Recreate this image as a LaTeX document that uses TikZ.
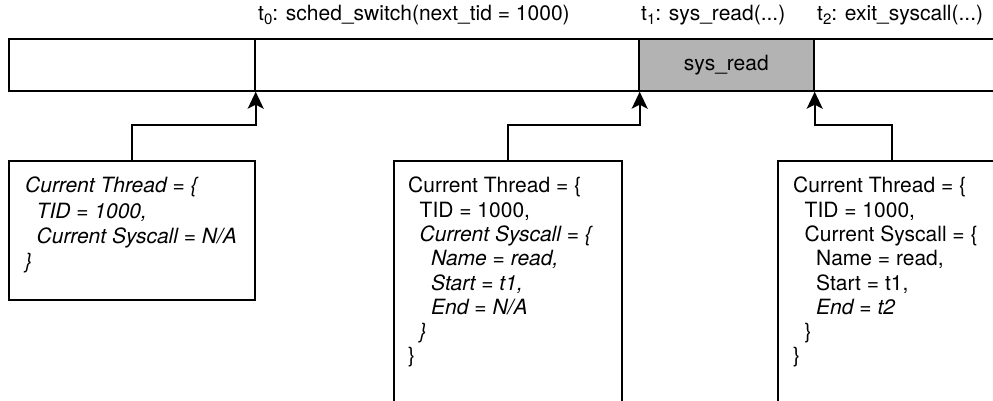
\documentclass[tikz,border=0pt]{standalone}
\usepackage{fontspec}
\setmainfont{TeX Gyre Heros}
\usetikzlibrary{arrows.meta}
\definecolor{syscol}{RGB}{179,179,179}
\newcommand{\ind}{\hspace*{11.5pt}}
\newcommand{\subt}[1]{\raisebox{-4pt}{\fontsize{15}{15}\selectfont #1}}
\begin{document}
\begin{tikzpicture}[x=1pt,y=-1pt,
  seg/.style={draw, line width=1.7pt, inner sep=0, minimum height=52pt, anchor=north west},
  infobox/.style={draw, line width=1.7pt, inner sep=0, anchor=north west},
  lbl/.style={font=\fontsize{21}{25.5}\selectfont, inner sep=0, anchor=base west},
  info/.style={font=\fontsize{21}{24.3}\selectfont, inner sep=0, anchor=north west, align=left},
  conn/.style={line width=1.7pt, -{Stealth[length=17pt,width=16pt,inset=4pt]}}]
\useasboundingbox (0,0) rectangle (993,400);
\clip (0,0) rectangle (993,400);
% timeline bar
\node[seg, minimum width=246pt] (s0) at (8,38) {};
\node[seg, minimum width=384pt] (s1) at (254,38) {};
\node[seg, minimum width=175pt, fill=syscol] (s2) at (638,38) {};
\node[seg, minimum width=200pt] (s3) at (813,38) {};
\node[font=\fontsize{21}{25.5}\selectfont, inner sep=0] (sr) at (s2.center) {sys\_read};
% event labels
\node[lbl] (l0) at (258,20) {t\subt{0}: sched\_switch(next\_tid = 1000)};
\node[lbl] (l1) at (641,20) {t\subt{1}: sys\_read(...)};
\node[lbl] (l2) at (817,20) {t\subt{2}: exit\_syscall(...)};
% state boxes
\node[infobox, minimum width=246pt, minimum height=139pt] (b1) at (8,160) {};
\node[infobox, minimum width=228pt, minimum height=260pt] (b2) at (393,160) {};
\node[infobox, minimum width=228pt, minimum height=260pt] (b3) at (777,160) {};
\node[info, font=\fontsize{21}{25.3}\selectfont] (t1) at (25,177) {\textit{Current Thread = \{}\\
\ind\textit{TID = 1000,}\\
\ind\textit{Current Syscall = N/A}\\
\textit{\}}};
\node[info] (t2) at (408,177) {Current Thread = \{\\
\ind TID = 1000,\\
\ind\textit{Current Syscall = \{}\\
\ind\ind\textit{Name = read,}\\
\ind\ind\textit{Start = t1,}\\
\ind\ind\textit{End = N/A}\\
\ind\textit{\}}\\
\}};
\node[info] (t3) at (793,177) {Current Thread = \{\\
\ind TID = 1000,\\
\ind Current Syscall = \{\\
\ind\ind Name = read,\\
\ind\ind Start = t1,\\
\ind\ind\textit{End = t2}\\
\ind\}\\
\}};
% connectors
\draw[conn] (b1.north) -- ++(0,-35) -| (s0.south east);
\draw[conn] (b2.north) -- ++(0,-35) -| (s1.south east);
\draw[conn] (b3.north) -- ++(0,-35) -| (s2.south east);
\end{tikzpicture}
\end{document}
